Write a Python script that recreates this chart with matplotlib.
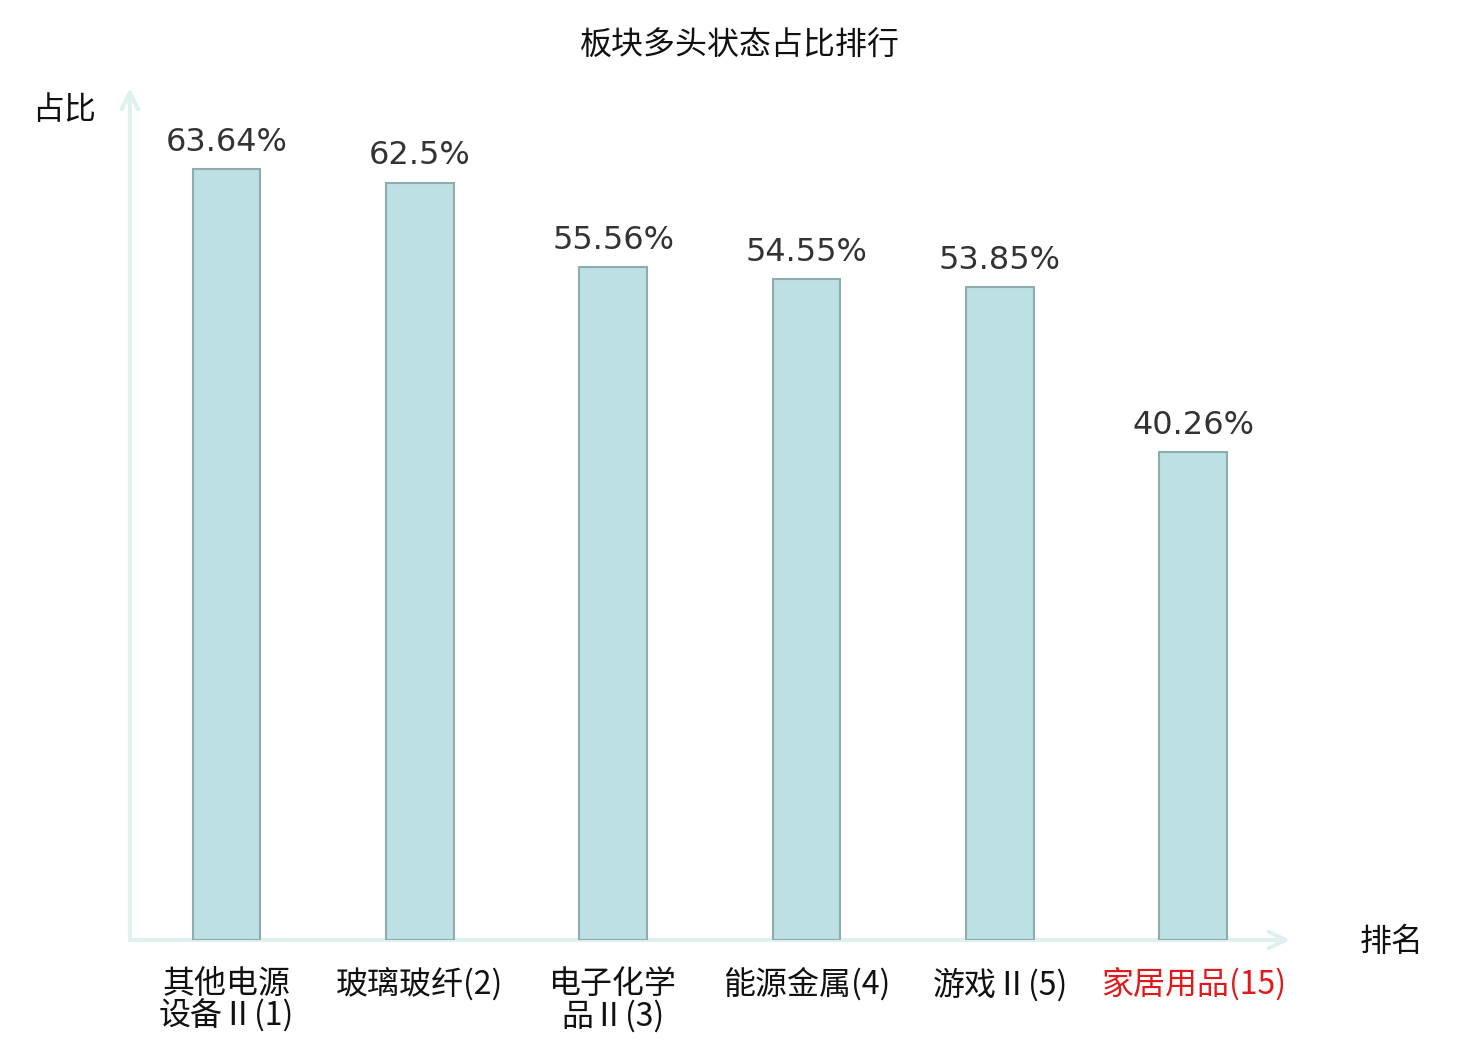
import numpy as np
import matplotlib.pyplot as plt

plt.rcParams['font.family'] = ['Noto Sans CJK SC', 'DejaVu Sans']

sectors = ['其他电源\n设备Ⅱ(1)', '玻璃玻纤(2)', '电子化学\n品Ⅱ(3)', '能源金属(4)', '游戏Ⅱ(5)', '家居用品(15)']
ratios = [63.64, 62.5, 55.56, 54.55, 53.85, 40.26]
value_text = ['63.64%', '62.5%', '55.56%', '54.55%', '53.85%', '40.26%']
label_colors = ['#111111', '#111111', '#111111', '#111111', '#111111', '#e0191b']

fig = plt.figure(figsize=(14.8, 10.4), dpi=100)
ax = fig.add_axes([0.0878, 0.0962, 0.7838, 0.8192])

x = np.arange(len(sectors))
ax.bar(x, ratios, width=0.35, color='#bce0e3', edgecolor='#8fabab', linewidth=1.5, zorder=2)

for xi, v, t in zip(x, ratios, value_text):
    ax.annotate(t, (xi, v), xytext=(0, 8), textcoords='offset points',
                ha='center', va='bottom', fontsize=23, color='#333333',
                family='DejaVu Sans')

ax.set_xlim(-0.5, 5.5)
ax.set_ylim(0, 70.3)
for s in ax.spines.values():
    s.set_visible(False)
ax.set_yticks([])
ax.set_xticks(x)
ax.set_xticklabels(sectors, fontsize=23, linespacing=1.0)
for lbl, c in zip(ax.get_xticklabels(), label_colors):
    lbl.set_color(c)
ax.tick_params(axis='x', length=0, pad=20)

# axis lines with open arrow heads
axis_col = '#dff1ef'
arrow = dict(arrowstyle='->', color=axis_col, lw=3, mutation_scale=30, shrinkA=0, shrinkB=0)
ax.annotate('', xy=(1, 0), xytext=(0, 0), xycoords='axes fraction',
            arrowprops=arrow, annotation_clip=False, zorder=1)
ax.annotate('', xy=(0, 1), xytext=(0, 0), xycoords='axes fraction',
            arrowprops=arrow, annotation_clip=False, zorder=1)

fig.text(0.5, 0.956, '板块多头状态占比排行', ha='center', va='center', fontsize=23, color='#111111')
fig.text(0.043, 0.894, '占比', ha='center', va='center', fontsize=23, color='#111111')
fig.text(0.94, 0.094, '排名', ha='center', va='center', fontsize=23, color='#111111')

fig.savefig('out.png', dpi=100)
